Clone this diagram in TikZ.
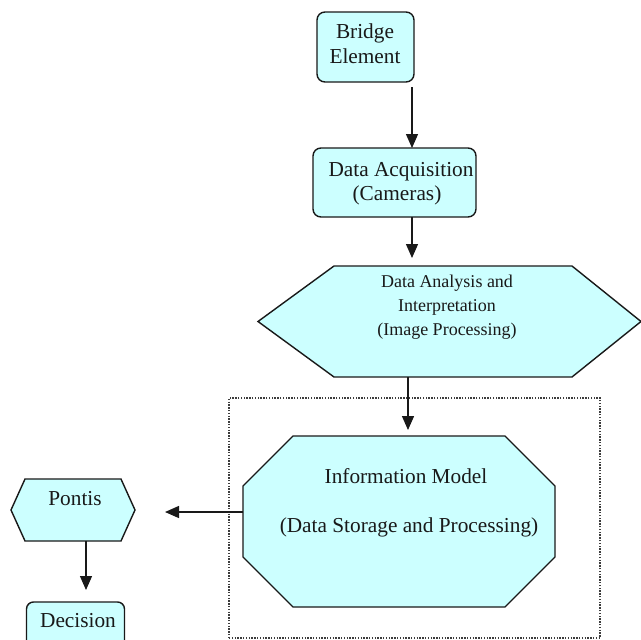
\documentclass[tikz,border=0pt]{standalone}
\usepackage{fontspec}
\setmainfont{Liberation Serif}
\usetikzlibrary{arrows.meta}
\definecolor{boxfill}{RGB}{204,255,255}
\definecolor{ink}{RGB}{25,25,25}

\begin{document}
\begin{tikzpicture}[x=1pt,y=-1pt,
  shapebox/.style={draw=ink, fill=boxfill, line width=1.4pt, line join=miter},
  ghost/.style={inner sep=0pt, outer sep=0pt, draw=none},
  rbox/.style={shapebox, rounded corners=8pt, inner sep=0pt, outer sep=0pt},
  lbl/.style={font=\fontsize{21.3}{25}\selectfont, inner sep=0pt, anchor=base, text=ink},
  lblsm/.style={font=\fontsize{18}{21.5}\selectfont, inner sep=0pt, anchor=base, text=ink},
  link/.style={draw=ink, line width=1.4pt, -{Triangle[length=14pt,width=12pt]}},
  frame/.style={draw=ink!85, line width=1.3pt, dash pattern=on 1.4pt off 1.4pt}
]
\useasboundingbox (0,0) rectangle (641,640);
\clip (0,0) rectangle (641,640);

% dotted frame round the storage stage
\node[frame, inner sep=0pt, outer sep=0pt, minimum width=371pt, minimum height=240pt] (store) at (414.5,518) {};

% bridge element
\node[rbox, minimum width=97pt, minimum height=70pt] (bridge) at (365.5,47) {};
\node[lbl] (bridgeA) at (365,38) {Bridge};
\node[lbl] (bridgeB) at (365,63) {Element};

% data acquisition
\node[rbox, minimum width=163pt, minimum height=69pt] (acq) at (394.5,182.5) {};
\node[lbl] (acqA) at (401,176) {Data Acquisition};
\node[lbl] (acqB) at (397,200) {(Cameras)};

% analysis hexagon
\node[ghost, minimum width=383pt, minimum height=111pt] (anal) at (449.5,321.5) {};
\filldraw[shapebox] (anal.west) -- ([xshift=76pt]anal.north west) -- ([xshift=-69pt]anal.north east)
  -- (anal.east) -- ([xshift=-69pt]anal.south east) -- ([xshift=76pt]anal.south west) -- cycle;
\node[lblsm] (analA) at (447,287) {Data Analysis and};
\node[lblsm] (analB) at (447,311) {Interpretation};
\node[lblsm] (analC) at (447,335) {(Image Processing)};

% information model octagon
\node[ghost, minimum width=312pt, minimum height=171pt] (info) at (399,521.5) {};
\filldraw[shapebox] ([xshift=50pt]info.north west) -- ([xshift=-50pt]info.north east)
  -- ([yshift=-50pt]info.north east) -- ([yshift=50pt]info.south east)
  -- ([xshift=-50pt]info.south east) -- ([xshift=50pt]info.south west)
  -- ([yshift=50pt]info.south west) -- ([yshift=-50pt]info.north west) -- cycle;
\node[lbl] (infoA) at (406,483) {Information Model};
\node[lbl] (infoB) at (409,532) {(Data Storage and Processing)};

% pontis hexagon
\node[ghost, minimum width=124pt, minimum height=62pt] (pontis) at (73,510) {};
\filldraw[shapebox] (pontis.west) -- ([xshift=14pt]pontis.north west) -- ([xshift=-14pt]pontis.north east)
  -- (pontis.east) -- ([xshift=-14pt]pontis.south east) -- ([xshift=14pt]pontis.south west) -- cycle;
\node[lbl] (pontisA) at (75,505) {Pontis};

% decision
\node[rbox, rounded corners=7pt, minimum width=98pt, minimum height=60pt] (decision) at (75.5,632) {};
\node[lbl] (decisionA) at (78,627) {Decision};

% connectors
\coordinate (xa) at (412,0);
\coordinate (xb) at (408,0);
\coordinate (yc) at (0,512);
\coordinate (xd) at (86,0);
\draw[link, shorten <=5pt] (bridge.south -| xa) -- (acq.north -| xa);
\draw[link, shorten >=8pt] (acq.south -| xa) -- (anal.north -| xa);
\draw[link, shorten >=6pt] (anal.south -| xb) -- (info.north -| xb);
\draw[link, shorten >=30pt] (info.west |- yc) -- (pontis.east |- yc);
\draw[link, shorten >=12pt] (pontis.south -| xd) -- (decision.north -| xd);
\end{tikzpicture}
\end{document}
